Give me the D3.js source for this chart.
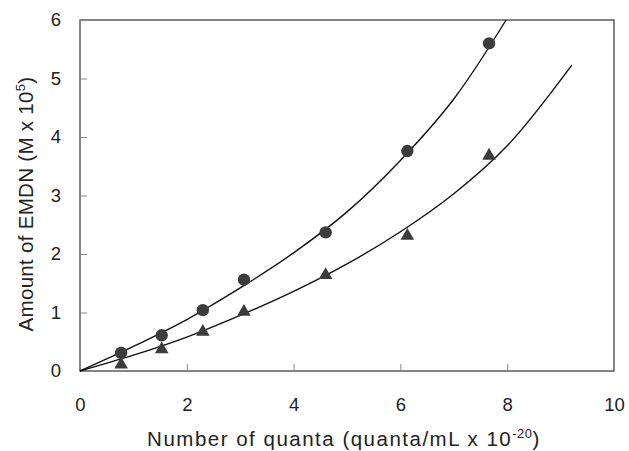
<!DOCTYPE html>
<html>
<head>
<meta charset="utf-8">
<script src="https://cdn.jsdelivr.net/npm/d3@7"></script>
<style>
  body { margin: 0; background: #fff; }
  text { font-family: Arial, "Liberation Sans", Helvetica, sans-serif; fill: #222; }
</style>
</head>
<body>
<div class="chart"></div>
<script>
// measured points
var quanta = [0.77, 1.53, 2.3, 3.07, 4.6, 6.13, 7.66];
var circleY = [0.31, 0.61, 1.04, 1.56, 2.37, 3.76, 5.6];
var triangleY = [0.11, 0.37, 0.67, 1.01, 1.64, 2.31, 3.68];

// fitted curves
var circleCurveX = [0, 1, 2, 3, 4, 5, 6, 7, 7.98];
var circleCurveY = [0, 0.42, 0.88, 1.42, 2.02, 2.72, 3.60, 4.65, 6.0];
var triCurveX = [0, 1, 2, 3, 4, 5, 6, 7, 8, 9.21];
var triCurveY = [0, 0.27, 0.58, 0.95, 1.36, 1.83, 2.38, 3.03, 3.85, 5.23];

var xTicks = [0, 2, 4, 6, 8, 10];
var yTicks = [0, 1, 2, 3, 4, 5, 6];

var width = 629;
var height = 451;
var svg = d3.select('.chart').append('svg').attr('width', width).attr('height', height);

var x = d3.scaleLinear().domain([0, 10]).range([80, 614]);
var y = d3.scaleLinear().domain([0, 6]).range([371, 20]);

// frame
svg.append('rect')
  .attr('x', x(0)).attr('y', y(6))
  .attr('width', x(10) - x(0)).attr('height', y(0) - y(6))
  .attr('fill', 'none').attr('stroke', '#333').attr('stroke-width', 1.2);

var xAxis = svg.append('g')
  .attr('transform', 'translate(0,' + y(0) + ')')
  .call(d3.axisBottom(x).tickValues(xTicks).tickSize(-7).tickPadding(27).tickFormat(d3.format('d')));
var yAxis = svg.append('g')
  .attr('transform', 'translate(' + x(0) + ',0)')
  .call(d3.axisLeft(y).tickValues(yTicks).tickSize(-7).tickPadding(19).tickFormat(d3.format('d')));

[xAxis, yAxis].forEach(function(a){
  a.select('.domain').remove();
  a.selectAll('line').attr('stroke', '#888');
  a.selectAll('text').attr('font-size', 18.5).attr('fill', '#222')
    .style('font-family', 'Arial, "Liberation Sans", sans-serif');
});

// curves
var line = d3.line().curve(d3.curveCatmullRom.alpha(0.5))
  .x(function(d){ return x(d[0]); })
  .y(function(d){ return y(d[1]); });

svg.append('path')
  .attr('d', line(d3.zip(circleCurveX, circleCurveY)))
  .attr('fill', 'none').attr('stroke', '#111').attr('stroke-width', 1.4);
svg.append('path')
  .attr('d', line(d3.zip(triCurveX, triCurveY)))
  .attr('fill', 'none').attr('stroke', '#111').attr('stroke-width', 1.4);

// markers
svg.selectAll('circle.pt')
  .data(d3.zip(quanta, circleY)).enter()
  .append('circle')
  .attr('class', 'pt')
  .attr('cx', function(d){ return x(d[0]); })
  .attr('cy', function(d){ return y(d[1]); })
  .attr('r', 6.2)
  .attr('fill', '#3c3c3c');

svg.selectAll('path.tri')
  .data(d3.zip(quanta, triangleY)).enter()
  .append('path')
  .attr('class', 'tri')
  .attr('d', d3.symbol().type(d3.symbolTriangle).size(80))
  .attr('transform', function(d){ return 'translate(' + x(d[0]) + ',' + y(d[1]) + ')'; })
  .attr('fill', '#3c3c3c');

// axis titles
var xt = svg.append('text')
  .attr('x', 344).attr('y', 446)
  .attr('text-anchor', 'middle')
  .attr('font-size', 20.5)
  .attr('letter-spacing', 1.5);
xt.append('tspan').text('Number of quanta (quanta/mL x 10');
xt.append('tspan').text('-20').attr('font-size', 13).attr('dy', -8).attr('letter-spacing', 0.5);
xt.append('tspan').text(')').attr('dy', 8);

var yt = svg.append('text')
  .attr('transform', 'translate(33,204) rotate(-90)')
  .attr('text-anchor', 'middle')
  .attr('font-size', 20.5)
  .attr('letter-spacing', 0.3);
yt.append('tspan').text('Amount of EMDN (M x 10');
yt.append('tspan').text('5').attr('font-size', 13).attr('dy', -8);
yt.append('tspan').text(')').attr('dy', 8);
</script>
</body>
</html>
